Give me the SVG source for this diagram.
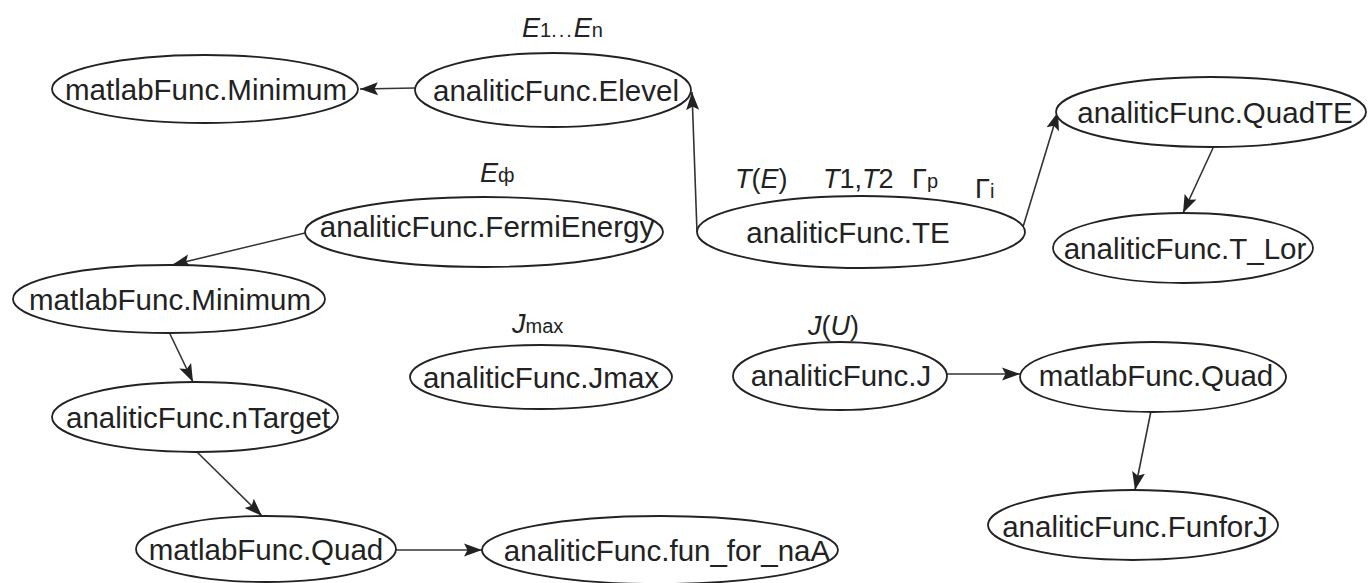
<svg xmlns="http://www.w3.org/2000/svg" width="1370" height="583" viewBox="0 0 1370 583">
  <defs>
    <marker id="arrow" viewBox="0 0 18 14" refX="18" refY="7" markerWidth="18" markerHeight="14" markerUnits="userSpaceOnUse" orient="auto">
      <path d="M0,0.5 L18,7 L0,13.5 L3.5,7 z" fill="#222"/>
    </marker>
    <style>
      .node ellipse { fill: #fff; stroke: #222; stroke-width: 1.8; }
      .node text { font-family: "Liberation Sans", Arial, sans-serif; font-size: 29.5px; fill: #222; text-anchor: middle; }
      .edge { stroke: #333; stroke-width: 1.6; fill: none; marker-end: url(#arrow); }
      .lbl { font-family: "Liberation Sans", Arial, sans-serif; font-size: 27px; fill: #222; }
      .it { font-style: italic; }
      .sm { font-size: 20px; }
    </style>
  </defs>
  <rect width="1370" height="583" fill="#fff"/>

  <!-- connectors -->
  <g id="connectors">
    <path class="edge" d="M415,88 L360,89"/>
    <path class="edge" d="M697,232 L692,92"/>
    <path class="edge" d="M1023,227 L1058,112"/>
    <path class="edge" d="M1213,148 L1183,213"/>
    <path class="edge" d="M305,233 L172,265"/>
    <path class="edge" d="M170,334 L193,382"/>
    <path class="edge" d="M197,452 L262,516"/>
    <path class="edge" d="M396,550 L482,550"/>
    <path class="edge" d="M947,374 L1020,374"/>
    <path class="edge" d="M1151,411 L1135,490"/>
  </g>

  <!-- nodes -->
  <g id="node-minimum-top" class="node">
    <ellipse cx="205" cy="89" rx="153" ry="34"/>
    <text x="206" y="100">matlabFunc.Minimum</text>
  </g>
  <g id="node-elevel" class="node">
    <ellipse cx="553" cy="90" rx="138" ry="37"/>
    <text x="556" y="101">analiticFunc.Elevel</text>
  </g>
  <g id="node-quadte" class="node">
    <ellipse cx="1211" cy="112" rx="155" ry="35"/>
    <text x="1215" y="123">analiticFunc.QuadTE</text>
  </g>
  <g id="node-te" class="node">
    <ellipse cx="861" cy="232" rx="164" ry="36"/>
    <text x="848" y="243">analiticFunc.TE</text>
  </g>
  <g id="node-tlor" class="node">
    <ellipse cx="1183" cy="248" rx="130" ry="35"/>
    <text x="1185" y="259">analiticFunc.T_Lor</text>
  </g>
  <g id="node-fermienergy" class="node">
    <ellipse cx="484" cy="232" rx="179" ry="35"/>
    <text x="487" y="237">analiticFunc.FermiEnergy</text>
  </g>
  <g id="node-minimum-2" class="node">
    <ellipse cx="169" cy="299" rx="156" ry="34"/>
    <text x="170" y="310">matlabFunc.Minimum</text>
  </g>
  <g id="node-jmax" class="node">
    <ellipse cx="541" cy="377" rx="131" ry="32"/>
    <text x="541" y="388">analiticFunc.Jmax</text>
  </g>
  <g id="node-j" class="node">
    <ellipse cx="840" cy="376" rx="107" ry="34"/>
    <text x="841" y="386">analiticFunc.J</text>
  </g>
  <g id="node-quad-right" class="node">
    <ellipse cx="1153" cy="377" rx="133" ry="35"/>
    <text x="1156" y="386">matlabFunc.Quad</text>
  </g>
  <g id="node-ntarget" class="node">
    <ellipse cx="195" cy="417" rx="143" ry="35"/>
    <text x="198" y="428">analiticFunc.nTarget</text>
  </g>
  <g id="node-funforj" class="node">
    <ellipse cx="1133" cy="525" rx="145" ry="35"/>
    <text x="1135" y="537">analiticFunc.FunforJ</text>
  </g>
  <g id="node-quad-left" class="node">
    <ellipse cx="266" cy="549" rx="130" ry="33"/>
    <text x="266" y="560">matlabFunc.Quad</text>
  </g>
  <g id="node-fun-for-naa" class="node">
    <ellipse cx="660" cy="550" rx="178" ry="34"/>
    <text x="667" y="561">analiticFunc.fun_for_naA</text>
  </g>

  <!-- output labels -->
  <g id="labels">
    <text class="lbl" x="522" y="37"><tspan class="it">E</tspan><tspan class="sm">1</tspan><tspan class="sm" letter-spacing="2">...</tspan><tspan class="it">E</tspan><tspan class="sm">n</tspan></text>
    <text class="lbl" x="480" y="182"><tspan class="it">E</tspan><tspan class="sm">ф</tspan></text>
    <text class="lbl" x="735" y="188"><tspan class="it">T</tspan>(<tspan class="it">E</tspan>)</text>
    <text class="lbl" x="823" y="188"><tspan class="it">T</tspan>1,<tspan class="it">T</tspan>2</text>
    <text class="lbl" x="912" y="188">Γ<tspan class="sm">p</tspan></text>
    <text class="lbl" x="975" y="198">Γ<tspan class="sm">i</tspan></text>
    <text class="lbl" x="512" y="333"><tspan class="it">J</tspan><tspan class="sm">max</tspan></text>
    <text class="lbl" x="808" y="335"><tspan class="it">J</tspan>(<tspan class="it">U</tspan>)</text>
  </g>
</svg>
